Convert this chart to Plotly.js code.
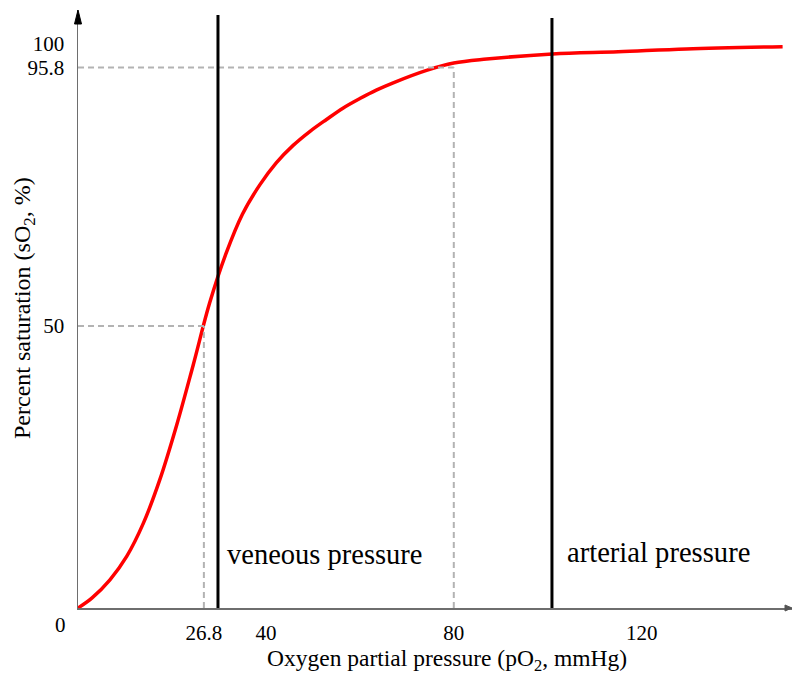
<!DOCTYPE html>
<html>
<head>
<meta charset="utf-8">
<script src="https://cdn.plot.ly/plotly-3.0.1.min.js"></script>
<style>html,body{margin:0;padding:0;background:#fff;}#chart{width:794px;height:675px;}</style>
</head>
<body>
<div id="chart"></div>
<script>
// Oxygen partial pressure (mmHg) and percent saturation
const pO2 = [0, 3, 6.8, 10.4, 13.9, 17.4, 21.0, 24.5, 28.0, 31.5, 35.0, 38.7, 42.2, 45.8, 49.4, 52.9, 56.4, 60.0, 63.5, 67.1, 74.2, 80, 87, 101, 115, 129.5, 150];
const sO2 = [0, 1.8, 5.0, 9.2, 15.0, 22.7, 32.4, 43.0, 54.0, 62.8, 69.8, 75.0, 78.9, 82.0, 84.5, 86.6, 88.6, 90.3, 91.8, 93.1, 95.3, 96.6, 97.3, 98.2, 98.6, 99.1, 99.5];

// Reference markers
const p50 = 26.8;          // pO2 at 50 % saturation
const sat50 = 50;
const pRef = 80;           // pO2 at 95.8 % saturation
const satRef = 95.8;
const venousP = 29.8;      // veneous pressure line
const arterialP = 100.9;   // arterial pressure line

const xTickVals = [26.8, 40, 80, 120];
const xTickText = ['26.8', '40', '80', '120'];
const yTickVals = [50, 95.8, 100];
const yTickText = ['50', '95.8', '100'];

const xTitle = 'Oxygen partial pressure (pO<sub>2</sub>, mmHg)';
const yTitle = 'Percent saturation (sO<sub>2</sub>, %)';

const serif = 'Liberation Serif, Times New Roman, serif';
const dashGray = '#b3b3b3';

const trace = {
  x: pO2, y: sO2, type: 'scatter', mode: 'lines',
  line: {color: '#ff0000', width: 3.5, shape: 'spline', smoothing: 1},
  hoverinfo: 'x+y', showlegend: false
};

const dash = {color: dashGray, width: 2, dash: '6px,4px'};
const shapes = [
  // dashed guides
  {type: 'line', xref: 'x', yref: 'y', x0: 0, x1: pRef, y0: satRef, y1: satRef, line: dash},
  {type: 'line', xref: 'x', yref: 'y', x0: pRef, x1: pRef, y0: 0, y1: satRef, line: dash},
  {type: 'line', xref: 'x', yref: 'y', x0: 0, x1: p50, y0: sat50, y1: sat50, line: dash},
  {type: 'line', xref: 'x', yref: 'y', x0: p50, x1: p50, y0: 0, y1: sat50, line: dash},
  // pressure lines
  {type: 'line', xref: 'x', yref: 'y', x0: venousP, x1: venousP, y0: 0, y1: 105.1, line: {color: '#000', width: 3}},
  {type: 'line', xref: 'x', yref: 'y', x0: arterialP, x1: arterialP, y0: 0, y1: 104.6, line: {color: '#000', width: 3}},
  // axis arrow heads
  {type: 'path', xref: 'paper', yref: 'paper', xsizemode: 'pixel', ysizemode: 'pixel', xanchor: 0, yanchor: 1,
   path: 'M -3.5 -14 L 0 0 L 3.5 -14 Z', fillcolor: '#000', line: {color: '#000', width: 1}},
  {type: 'path', xref: 'paper', yref: 'paper', xsizemode: 'pixel', ysizemode: 'pixel', xanchor: 1, yanchor: 0,
   path: 'M -7 -3 L 0 0 L -7 3 Z', fillcolor: '#555', line: {color: '#555', width: 1}}
];

const annotations = [
  {x: venousP, y: 9.5, xref: 'x', yref: 'y', text: 'veneous pressure', showarrow: false,
   xanchor: 'left', yanchor: 'middle', xshift: 7, font: {family: serif, size: 28.5, color: '#000'}},
  {x: arterialP, y: 9.8, xref: 'x', yref: 'y', text: 'arterial pressure', showarrow: false,
   xanchor: 'left', yanchor: 'middle', xshift: 13, font: {family: serif, size: 28.6, color: '#000'}},
  {x: 0, y: 0, xref: 'x', yref: 'y', text: '0', showarrow: false, xanchor: 'center', yanchor: 'middle',
   xshift: -18, yshift: -17, font: {family: serif, size: 21, color: '#000'}},
  // axis titles
  {x: 0.5168, y: 0, xref: 'paper', yref: 'paper', text: xTitle, showarrow: false,
   xanchor: 'center', yanchor: 'middle', yshift: -52, font: {family: serif, size: 23.5, color: '#000'}},
  {x: 0, y: 0.5017, xref: 'paper', yref: 'paper', text: yTitle, showarrow: false, textangle: -90,
   xanchor: 'center', yanchor: 'middle', xshift: -54, font: {family: serif, size: 24, color: '#000'}}
];

const layout = {
  width: 794, height: 675,
  margin: {l: 78, r: 2, t: 10, b: 67},
  paper_bgcolor: '#fff', plot_bgcolor: '#fff',
  font: {family: serif, color: '#000'},
  showlegend: false,
  xaxis: {
    range: [0, 152], showgrid: false, zeroline: false,
    showline: true, linecolor: '#6e6e6e', linewidth: 1.5,
    tickvals: xTickVals, ticktext: xTickText,
    ticks: 'outside', ticklen: 5, tickcolor: 'rgba(0,0,0,0)',
    tickfont: {family: serif, size: 21, color: '#000'}
  },
  yaxis: {
    range: [0, 106], showgrid: false, zeroline: false,
    showline: true, linecolor: '#6e6e6e', linewidth: 1.5,
    tickvals: yTickVals, ticktext: yTickText,
    ticks: 'outside', ticklen: 8, tickcolor: 'rgba(0,0,0,0)',
    tickfont: {family: serif, size: 21, color: '#000'}
  },
  shapes: shapes,
  annotations: annotations
};

Plotly.newPlot('chart', [trace], layout, {displayModeBar: false, staticPlot: true});
</script>
</body>
</html>
